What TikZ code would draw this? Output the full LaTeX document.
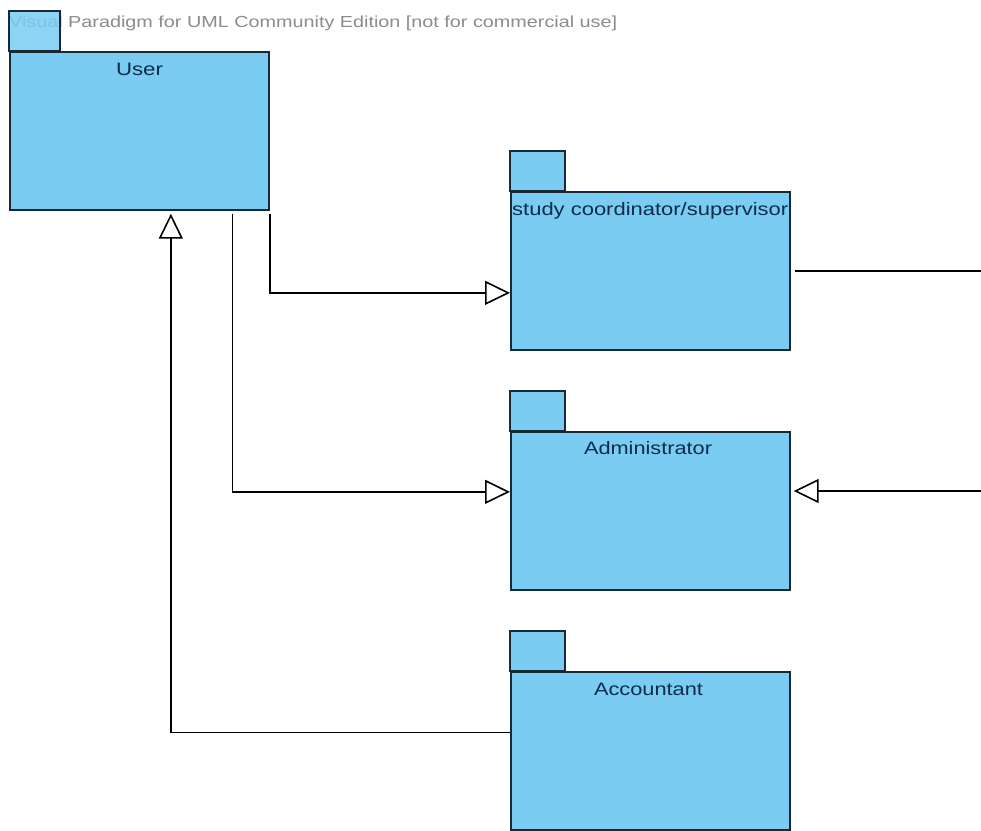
\documentclass[tikz,border=0pt]{standalone}
\usepackage{fontspec}
\setmainfont{Liberation Sans}
\usepackage{graphicx}
\usetikzlibrary{arrows.meta}
\definecolor{pkgfill}{RGB}{122,204,242}
\definecolor{pkgline}{RGB}{24,40,52}
\definecolor{pkgtext}{RGB}{12,44,74}
\definecolor{wmgray}{RGB}{140,140,140}
\newcommand\wfit[2]{\resizebox{#1}{\height}{#2}}
\tikzset{
  pkgbody/.style={draw=pkgline, fill=pkgfill, line width=1.7pt, inner sep=0pt,
    minimum width=#1, anchor=north west},
  pkgtab/.style={draw=pkgline, fill=pkgfill, line width=1.7pt},
  pkglabel/.style={text=pkgtext, inner sep=0pt, anchor=base, font=\fontsize{18}{20}\selectfont},
  gen/.style={draw=black, line width=1.7pt,
    -{Triangle[length=25pt,width=24pt,fill=white,line width=1.6pt]}},
  plain/.style={draw=black, line width=1.7pt}
}
\begin{document}
\begin{tikzpicture}[x=1pt,y=-1pt]
\useasboundingbox (0,0) rectangle (981,830);
\fill[white] (0,0) rectangle (981,830);

% watermark line
\node[text=wmgray, inner sep=0pt, anchor=base west, font=\fontsize{16}{18}\selectfont]
  (wm) at (9,27) {\wfit{608pt}{Visual Paradigm for UML Community Edition [not for commercial use]}};

% packages: tab + body
\draw[pkgtab, fill opacity=0.85] (9,11) rectangle (60,51);
\node[pkgbody=259pt, minimum height=158pt] (user) at (9,51) {};
\node[pkglabel] (userlbl) at (139.5,75) {\wfit{47pt}{User}};

\draw[pkgtab] (510,151) rectangle (565,191);
\node[pkgbody=279pt, minimum height=158pt] (study) at (510,191) {};
\node[pkglabel, anchor=base west] (studylbl) at (512,215) {\wfit{276pt}{study coordinator/supervisor}};

\draw[pkgtab] (510,391) rectangle (565,431);
\node[pkgbody=279pt, minimum height=158pt] (admin) at (510,431) {};
\node[pkglabel] (adminlbl) at (648,454) {\wfit{128pt}{Administrator}};

\draw[pkgtab] (510,631) rectangle (565,671);
\node[pkgbody=279pt, minimum height=158pt] (acct) at (510,671) {};
\node[pkglabel] (acctlbl) at (648.5,695) {\wfit{109pt}{Accountant}};

% free ends at the right border
\coordinate (outA) at (981,271);
\coordinate (outB) at (981,491);

% generalisations
\draw[gen, shorten <=3pt] (user.south east) |- ([yshift=-22pt]study.west);
\draw[gen, shorten <=3pt] ([xshift=93pt]user.south) |- ([yshift=19pt]admin.west);
\draw[gen, shorten >=3pt] ([yshift=18.5pt]acct.west) -| ([xshift=31.5pt]user.south);
\draw[plain] ([xshift=4pt]study.east |- outA) -- (outA);
\draw[gen, shorten >=3pt] (outB) -- (admin.east |- outB);
\end{tikzpicture}
\end{document}
